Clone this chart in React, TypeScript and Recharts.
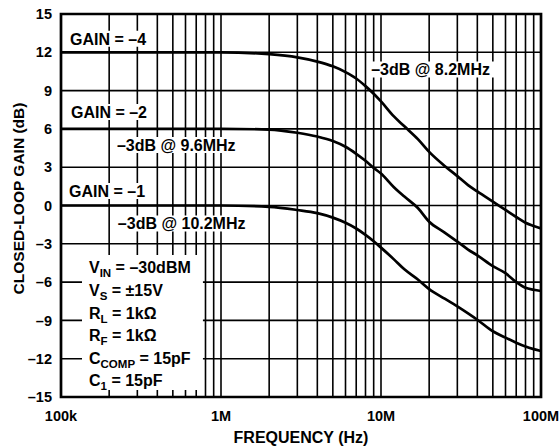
import React from 'react';
import { LineChart, Line, XAxis, YAxis, CartesianGrid, ReferenceArea } from 'recharts';

// frequency points (Hz) and the closed-loop gain (dB)
const freqs = [1e5, 2e5, 5e5, 1e6, 2e6, 3e6, 4e6, 5e6, 6e6, 7e6, 8e6, 9e6, 1e7, 1.2e7, 1.4e7, 1.7e7, 2e7, 2.5e7, 3e7, 3.5e7, 4e7, 5e7, 6e7, 7e7, 8e7, 9e7, 1e8];
const gainMinus4 = [12, 12, 12, 12, 11.85, 11.6, 11.27, 10.9, 10.45, 9.95, 9.35, 8.75, 8.15, 7.0, 6.2, 5.2, 4.2, 3.1, 2.3, 1.6, 1.1, 0.3, -0.35, -0.9, -1.35, -1.6, -1.8];
const gainMinus2 = [6, 6, 6, 6, 5.95, 5.7, 5.4, 5.05, 4.6, 4.05, 3.5, 2.95, 2.5, 1.45, 0.7, -0.2, -1.27, -2.12, -2.83, -3.45, -3.9, -4.75, -5.3, -6.0, -6.45, -6.6, -6.7];
const gainMinus1 = [0, 0, 0, 0, -0.1, -0.35, -0.6, -0.95, -1.35, -1.8, -2.3, -2.8, -3.3, -4.2, -5.0, -5.8, -6.55, -7.3, -7.9, -8.45, -8.95, -9.85, -10.35, -10.75, -11.05, -11.25, -11.4];

const xTicks = [1e5, 1e6, 1e7, 1e8];
const xTickLabels = ['100k', '1M', '10M', '100M'];
const yTicks = [-15, -12, -9, -6, -3, 0, 3, 6, 9, 12, 15];

// log grid: 1..9 in each decade
const gridFreqs: number[] = [];
[1e5, 1e6, 1e7].forEach(d => {
  for (let k = 1; k <= 9; k++) gridFreqs.push(k * d);
});
gridFreqs.push(1e8);

const conditions = [
  { main: 'V', sub: 'IN', rest: ' = \u201330dBM' },
  { main: 'V', sub: 'S', rest: ' = \u00b115V' },
  { main: 'R', sub: 'L', rest: ' = 1k\u03a9' },
  { main: 'R', sub: 'F', rest: ' = 1k\u03a9' },
  { main: 'C', sub: 'COMP', rest: ' = 15pF' },
  { main: 'C', sub: '1', rest: ' = 15pF' },
];

const chartData = freqs.map((freq, i) => ({
  freq,
  g4: gainMinus4[i],
  g2: gainMinus2[i],
  g1: gainMinus1[i],
}));

const FONT = '"Liberation Sans", Arial, Helvetica, sans-serif';

// white boxes behind the in-plot text, in data coordinates
const annotations = [
  { text: 'GAIN = \u20134', x1: 1.075e5, x2: 3.6e5, y1: 12.43, y2: 13.68 },
  { text: 'GAIN = \u20132', x1: 1.09e5, x2: 3.6e5, y1: 6.7, y2: 7.95 },
  { text: '\u20133dB @ 9.6MHz', x1: 2.11e5, x2: 1.33e6, y1: 4.11, y2: 5.37 },
  { text: 'GAIN = \u20131', x1: 1.06e5, x2: 3.45e5, y1: 0.51, y2: 1.76 },
  { text: '\u20133dB @ 10.2MHz', x1: 2.14e5, x2: 1.47e6, y1: -2.04, y2: -0.78 },
  { text: '\u20133dB @ 8.2MHz', x1: 8.2e6, x2: 5.1e7, y1: 10.03, y2: 11.28 },
];

const boxLabel = (text: string) => (props: any) => {
  const { x, y, height } = props.viewBox;
  return (
    <text x={x + 4} y={y + height / 2 + 5.7} fill="#000" fontSize={16} fontWeight={700} fontFamily={FONT}>
      {text}
    </text>
  );
};

const conditionsLabel = (props: any) => {
  const { x, y } = props.viewBox;
  return (
    <g>
      {conditions.map((c, i) => (
        <text key={i} x={x + 7} y={y + 18.3 + i * 22.6} fill="#000" fontSize={16} fontWeight={700} fontFamily={FONT}>
          <tspan>{c.main}</tspan>
          <tspan dy={4} fontSize={11.5}>{c.sub}</tspan>
          <tspan dy={-4}>{c.rest}</tspan>
        </text>
      ))}
    </g>
  );
};

const yTitle = (props: any) => {
  const { y, height } = props.viewBox;
  const cx = 18;
  const cy = y + height / 2 - 7;
  return (
    <text x={cx} y={cy} transform={`rotate(-90, ${cx}, ${cy})`} textAnchor="middle" dominantBaseline="central"
      fill="#000" fontSize={15.5} fontWeight={700} fontFamily={FONT}>
      CLOSED-LOOP GAIN (dB)
    </text>
  );
};

const xTitle = (props: any) => {
  const { x, width } = props.viewBox;
  return (
    <text x={x + width / 2} y={443.3} textAnchor="middle" fill="#000" fontSize={16} fontWeight={700} fontFamily={FONT}>
      FREQUENCY (Hz)
    </text>
  );
};

const tickStyle = { fill: '#000', fontSize: 14.5, fontWeight: 700, fontFamily: FONT };

const App: React.FC = () => {
  return (
    <div style={{ position: 'absolute', left: 0, top: 0, width: 559, height: 446, background: '#fff' }}>
      <LineChart width={559} height={446} data={chartData} margin={{ top: 14, right: 18, bottom: 0, left: 0 }}>
        <CartesianGrid stroke="#000" strokeWidth={1.6} verticalValues={gridFreqs} horizontalValues={yTicks} />
        <XAxis
          dataKey="freq"
          type="number"
          scale="log"
          domain={[1e5, 1e8]}
          ticks={xTicks}
          tickFormatter={(v: number) => xTickLabels[xTicks.indexOf(v)] ?? ''}
          allowDataOverflow
          axisLine={false}
          tickLine={false}
          tickSize={0}
          tickMargin={14}
          height={49}
          tick={tickStyle}
          interval={0}
          label={xTitle}
        />
        <YAxis
          type="number"
          domain={[-15, 15]}
          ticks={yTicks}
          tickFormatter={(v: number) => (v < 0 ? `\u2013${Math.abs(v)}` : `${v}`)}
          axisLine={false}
          tickLine={false}
          tickSize={0}
          tickMargin={9}
          width={61}
          tick={tickStyle}
          interval={0}
          label={yTitle}
        />
        {annotations.map((a, i) => (
          <ReferenceArea key={i} x1={a.x1} x2={a.x2} y1={a.y1} y2={a.y2} fill="#fff" fillOpacity={1} stroke="none" label={boxLabel(a.text)} />
        ))}
        <ReferenceArea x1={1.353e5} x2={7.71e5} y1={-14.45} y2={-3.88} fill="#fff" fillOpacity={1} stroke="none" label={conditionsLabel} />
        <Line dataKey="g4" type="monotone" stroke="#000" strokeWidth={2.7} dot={false} isAnimationActive={false} />
        <Line dataKey="g2" type="monotone" stroke="#000" strokeWidth={2.7} dot={false} isAnimationActive={false} />
        <Line dataKey="g1" type="monotone" stroke="#000" strokeWidth={2.7} dot={false} isAnimationActive={false} />
        <ReferenceArea x1={1e5} x2={1e8} y1={-15} y2={15} fill="none" stroke="#000" strokeWidth={2.7} />
      </LineChart>
    </div>
  );
};

export default App;
